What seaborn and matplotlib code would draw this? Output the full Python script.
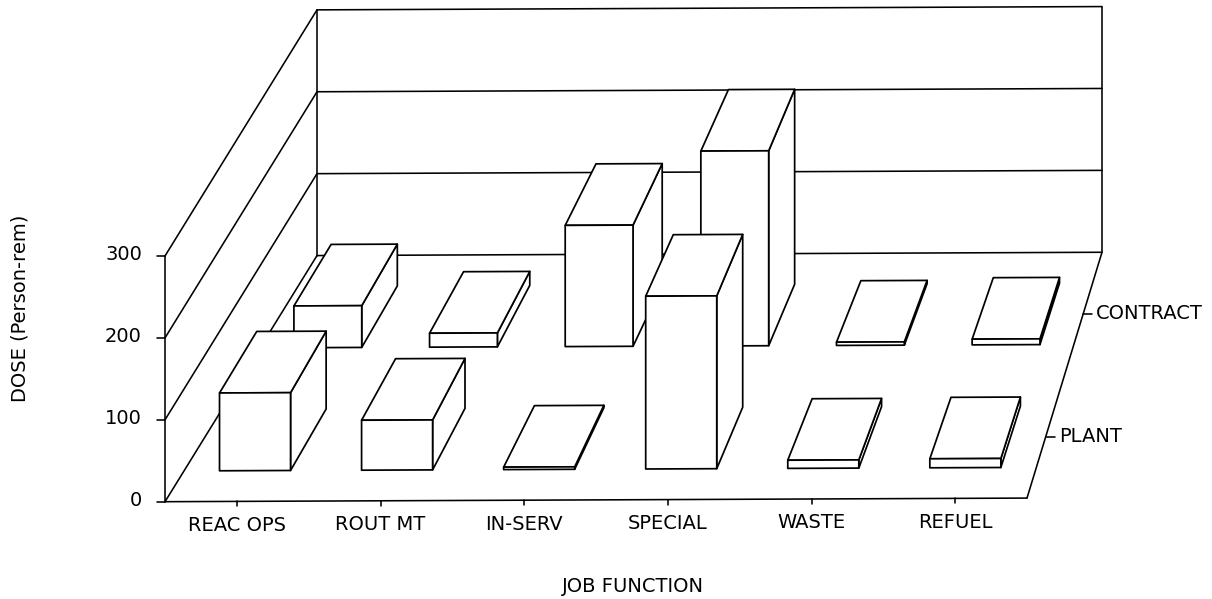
import pandas as pd
import seaborn as sns
import matplotlib.pyplot as plt
from matplotlib.patches import Polygon

# Dose per job function
jobs = ['REAC OPS', 'ROUT MT', 'IN-SERV', 'SPECIAL', 'WASTE', 'REFUEL']
plant = [95, 61, 3, 211, 10, 11]
contract = [51, 17, 148, 238, 4, 7]
groups = ['PLANT', 'CONTRACT']
z_ticks = [0, 100, 200, 300]

sns.set_theme(style='white', font='DejaVu Sans')

# Long format, back row first so the front row is painted over it
dose = pd.DataFrame({'job': jobs, 'PLANT': plant, 'CONTRACT': contract})
dose = dose.melt(id_vars='job', var_name='group', value_name='dose')
dose['col'] = dose['job'].map(jobs.index)
dose['row'] = dose['group'].map(groups.index)
dose = dose.sort_values(['row', 'col'], ascending=[False, True])


def project(u, v, z=0):
    # floor position (u, v in 0-1) and dose to pixel position of the scanned page
    left = 165 + 152 * v
    right = 1027 + 75 * v
    x = left + u * (right - left)
    y = 501.7 - 245.5 * v - 0.0042 * (x - 165) - z * 0.819
    return x, y


def col_u(i):
    return (i + 0.5) / len(jobs)


def row_v(i):
    return (i + 0.5) / len(groups)


# Walls, floor and tick marks as one table of line pieces
edges = []
for z in z_ticks:
    edges.append([project(0, 0, z), project(0, 1, z)])
    edges.append([project(0, 1, z), project(1, 1, z)])
    x, y = project(0, 0, z)
    edges.append([(x - 8, y), (x, y)])
edges.append([project(0, 0), project(0, 0, 300)])
edges.append([project(0, 1), project(0, 1, 300)])
edges.append([project(1, 1), project(1, 1, 300)])
edges.append([project(0, 0), project(1, 0)])
edges.append([project(1, 0), project(1, 1)])
for i in range(len(jobs)):
    x, y = project(col_u(i), 0)
    edges.append([(x, y), (x, y + 5)])
for i in range(len(groups)):
    x, y = project(1, row_v(i))
    edges.append([(x, y), (x + 9, y)])
frame = pd.DataFrame([{'edge': n, 'px': p[0], 'py': p[1]}
                      for n, e in enumerate(edges) for p in e])

fig = plt.figure(figsize=(12.12, 5.99), dpi=100)
ax = fig.add_axes([0, 0, 1, 1])

sns.lineplot(data=frame, x='px', y='py', units='edge', estimator=None, sort=False,
             color='black', linewidth=1.15, legend=False, ax=ax)

# Bars: right side, top, then front face
half_u = 1 / (4 * len(jobs))
half_v = 1 / (4 * len(groups))
for _, bar in dose.iterrows():
    u0, u1 = col_u(bar['col']) - half_u, col_u(bar['col']) + half_u
    v0, v1 = row_v(bar['row']) - half_v, row_v(bar['row']) + half_v
    h = bar['dose']
    side = [project(u1, v0), project(u1, v1), project(u1, v1, h), project(u1, v0, h)]
    top = [project(u0, v0, h), project(u1, v0, h), project(u1, v1, h), project(u0, v1, h)]
    front = [project(u0, v0), project(u1, v0), project(u1, v0, h), project(u0, v0, h)]
    for face in [side, top, front]:
        ax.add_patch(Polygon(face, closed=True, facecolor='white', edgecolor='black',
                             linewidth=1.25, joinstyle='round', zorder=3))

label_size = 14
for i, job in enumerate(jobs):
    x, y = project(col_u(i), 0)
    ax.text(x, y + 24, job, ha='center', va='center', fontsize=label_size, color='black')
for z in z_ticks:
    x, y = project(0, 0, z)
    ax.text(x - 23, y - 1, str(z), ha='right', va='center', fontsize=label_size, color='black')
for i, group in enumerate(groups):
    x, y = project(1, row_v(i))
    ax.text(x + 13, y, group, ha='left', va='center', fontsize=label_size, color='black')

ax.text(633, 587, 'JOB FUNCTION', ha='center', va='center', fontsize=label_size, color='black')
ax.text(20, 308, 'DOSE (Person-rem)', ha='center', va='center', rotation=90,
        fontsize=label_size, color='black')

ax.set_xlim(0, 1212)
ax.set_ylim(599, 0)
ax.axis('off')

fig.savefig('out.png', dpi=100, facecolor='white')
